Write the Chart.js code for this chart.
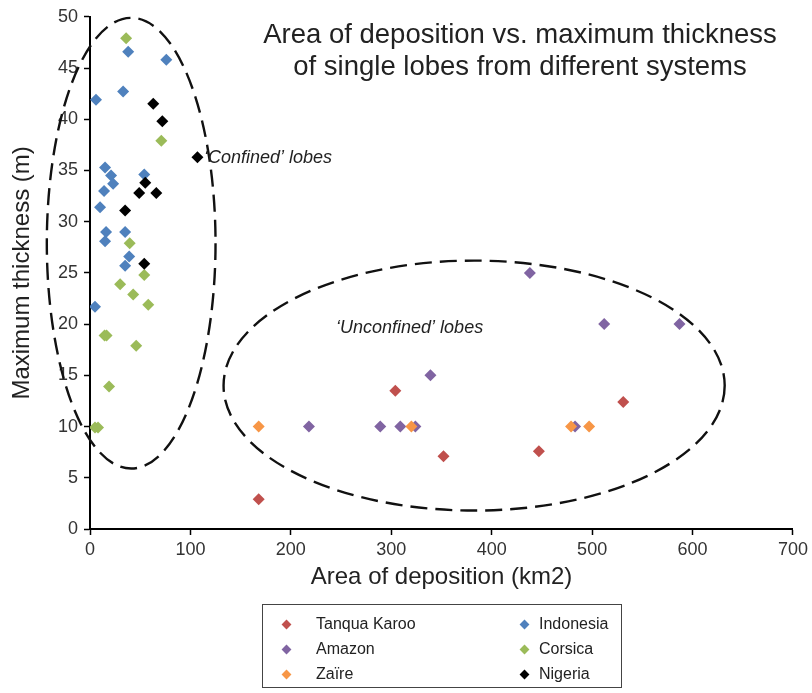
<!DOCTYPE html>
<html>
<head>
<meta charset="utf-8">
<script src="https://cdn.jsdelivr.net/npm/chart.js@4.4.0/dist/chart.umd.min.js"></script>
<style>
  body { margin: 0; background: #fff; }
  #wrap { position: relative; width: 812px; height: 693px; font-family: "Liberation Sans", Arial, sans-serif; }
  #legend { position: absolute; left: 262px; top: 604px; width: 360px; height: 84px; border: 1.5px solid #444; box-sizing: border-box; }
  .item { position: absolute; font-size: 16px; color: #222; line-height: 18px; white-space: nowrap; }
  .mark { position: absolute; width: 7px; height: 7px; transform: rotate(45deg); }
</style>
</head>
<body>
<div id="wrap">
  <canvas id="lobeChart" width="812" height="693"></canvas>
  <div id="legend"></div>
</div>
<script>
// data (area km2, thickness m)
const tanquaX = [168, 304, 352, 447, 531];
const tanquaY = [2.9, 13.5, 7.1, 7.6, 12.4];
const amazonX = [218, 289, 309, 324, 339, 438, 483, 512, 587];
const amazonY = [10, 10, 10, 10, 15, 25, 10, 20, 20];
const zaireX = [168, 320, 479, 497];
const zaireY = [10, 10, 10, 10];
const indonesiaX = [38, 76, 33, 6, 15, 21, 54, 23, 14, 10, 16, 35, 15, 39, 35, 5];
const indonesiaY = [46.6, 45.8, 42.7, 41.9, 35.3, 34.5, 34.6, 33.7, 33.0, 31.4, 29.0, 29.0, 28.1, 26.6, 25.7, 21.7];
const corsicaX = [36, 71, 39.5, 54, 30, 43, 58, 14.5, 16.5, 46, 19, 5, 8];
const corsicaY = [47.9, 37.9, 27.9, 24.8, 23.9, 22.9, 21.9, 18.9, 18.9, 17.9, 13.9, 9.9, 9.9];
const nigeriaX = [63, 72, 107, 55, 49, 66, 35, 54];
const nigeriaY = [41.5, 39.8, 36.3, 33.8, 32.8, 32.8, 31.1, 25.9];

const systems = ['Tanqua Karoo', 'Amazon', 'Zaïre', 'Indonesia', 'Corsica', 'Nigeria'];
const colours = ['#c0504d', '#8064a2', '#f79646', '#4f81bd', '#9bbb59', '#000000'];
const xs = [tanquaX, amazonX, zaireX, indonesiaX, corsicaX, nigeriaX];
const ys = [tanquaY, amazonY, zaireY, indonesiaY, corsicaY, nigeriaY];

const titleLines = ['Area of deposition vs. maximum thickness', 'of single lobes from different systems'];

// dashed outlines, in data units
const outlines = [
    { cx: 41, cy: 27.9, rx: 84, ry: 22 },
    { cx: 382.5, cy: 14, rx: 249.5, ry: 12.2 }
];
const notes = [
    { text: '\u2018Confined\u2019 lobes', x: 113.5, y: 36.2 },
    { text: '\u2018Unconfined\u2019 lobes', x: 245, y: 19.6 }
];

const datasets = systems.map((name, i) => ({
    label: name,
    data: xs[i].map((v, j) => ({ x: v, y: ys[i][j] })),
    pointStyle: 'rectRot',
    pointRadius: 6,
    backgroundColor: colours[i],
    borderColor: colours[i],
    borderWidth: 0,
    order: systems.length - i
}));

const extras = {
    id: 'extras',
    afterDatasetsDraw(chart) {
        const { ctx, scales: { x, y } } = chart;
        ctx.save();
        ctx.strokeStyle = '#111';
        ctx.lineWidth = 2.4;
        ctx.setLineDash([17, 8]);
        outlines.forEach(o => {
            const cx = x.getPixelForValue(o.cx);
            const cy = y.getPixelForValue(o.cy);
            const rx = Math.abs(x.getPixelForValue(o.cx + o.rx) - cx);
            const ry = Math.abs(y.getPixelForValue(o.cy + o.ry) - cy);
            ctx.beginPath();
            ctx.ellipse(cx, cy, rx, ry, 0, 0, Math.PI * 2);
            ctx.stroke();
        });
        ctx.setLineDash([]);
        ctx.fillStyle = '#222';
        ctx.textBaseline = 'middle';
        ctx.font = 'italic 18px "Liberation Sans", Arial, sans-serif';
        notes.forEach(n => ctx.fillText(n.text, x.getPixelForValue(n.x), y.getPixelForValue(n.y)));
        ctx.textAlign = 'center';
        ctx.font = '27.5px "Liberation Sans", Arial, sans-serif';
        titleLines.forEach((t, i) => ctx.fillText(t, 520, 35 + i * 32));
        ctx.restore();
    }
};

const chart = new Chart(document.getElementById('lobeChart'), {
    type: 'scatter',
    data: { datasets: datasets },
    options: {
        responsive: false,
        animation: false,
        layout: { padding: { top: 15, right: 17, bottom: 94, left: 0 } },
        plugins: { legend: { display: false }, tooltip: { enabled: false } },
        scales: {
            x: {
                min: 0, max: 700,
                ticks: { stepSize: 100, color: '#333', padding: 4, font: { size: 18, family: '"Liberation Sans", Arial' } },
                grid: { drawOnChartArea: false, color: '#000', tickLength: 6, tickWidth: 1.5 },
                border: { color: '#000', width: 2 },
                title: { display: true, text: 'Area of deposition (km2)', color: '#222', padding: { top: 0, bottom: 7 }, font: { size: 24, family: '"Liberation Sans", Arial' } },
                afterFit: s => { s.height = 70; }
            },
            y: {
                min: 0, max: 50,
                ticks: { stepSize: 5, color: '#333', padding: 6, font: { size: 18, family: '"Liberation Sans", Arial' } },
                grid: { drawOnChartArea: false, color: '#000', tickLength: 6, tickWidth: 1.5 },
                border: { color: '#000', width: 2 },
                title: { display: true, text: 'Maximum thickness (m)', color: '#222', padding: { top: 8, bottom: 0 }, font: { size: 24, family: '"Liberation Sans", Arial' } },
                afterFit: s => { s.width = 90; }
            }
        }
    },
    plugins: [extras]
});

// two-column legend built from the datasets
const legend = document.getElementById('legend');
const cols = [[23, 53], [261, 276]];
const rows = [19, 44, 69];
const legendOrder = [[0, 0, 0], [1, 0, 1], [2, 0, 2], [3, 1, 0], [4, 1, 1], [5, 1, 2]];
legendOrder.forEach(([i, c, r]) => {
    const m = document.createElement('div');
    m.className = 'mark';
    m.style.background = colours[i];
    m.style.left = (cols[c][0] - 3.5) + 'px';
    m.style.top = (rows[r] - 3.5) + 'px';
    legend.appendChild(m);
    const t = document.createElement('div');
    t.className = 'item';
    t.textContent = systems[i];
    t.style.left = cols[c][1] + 'px';
    t.style.top = (rows[r] - 9) + 'px';
    legend.appendChild(t);
});
</script>
</body>
</html>
